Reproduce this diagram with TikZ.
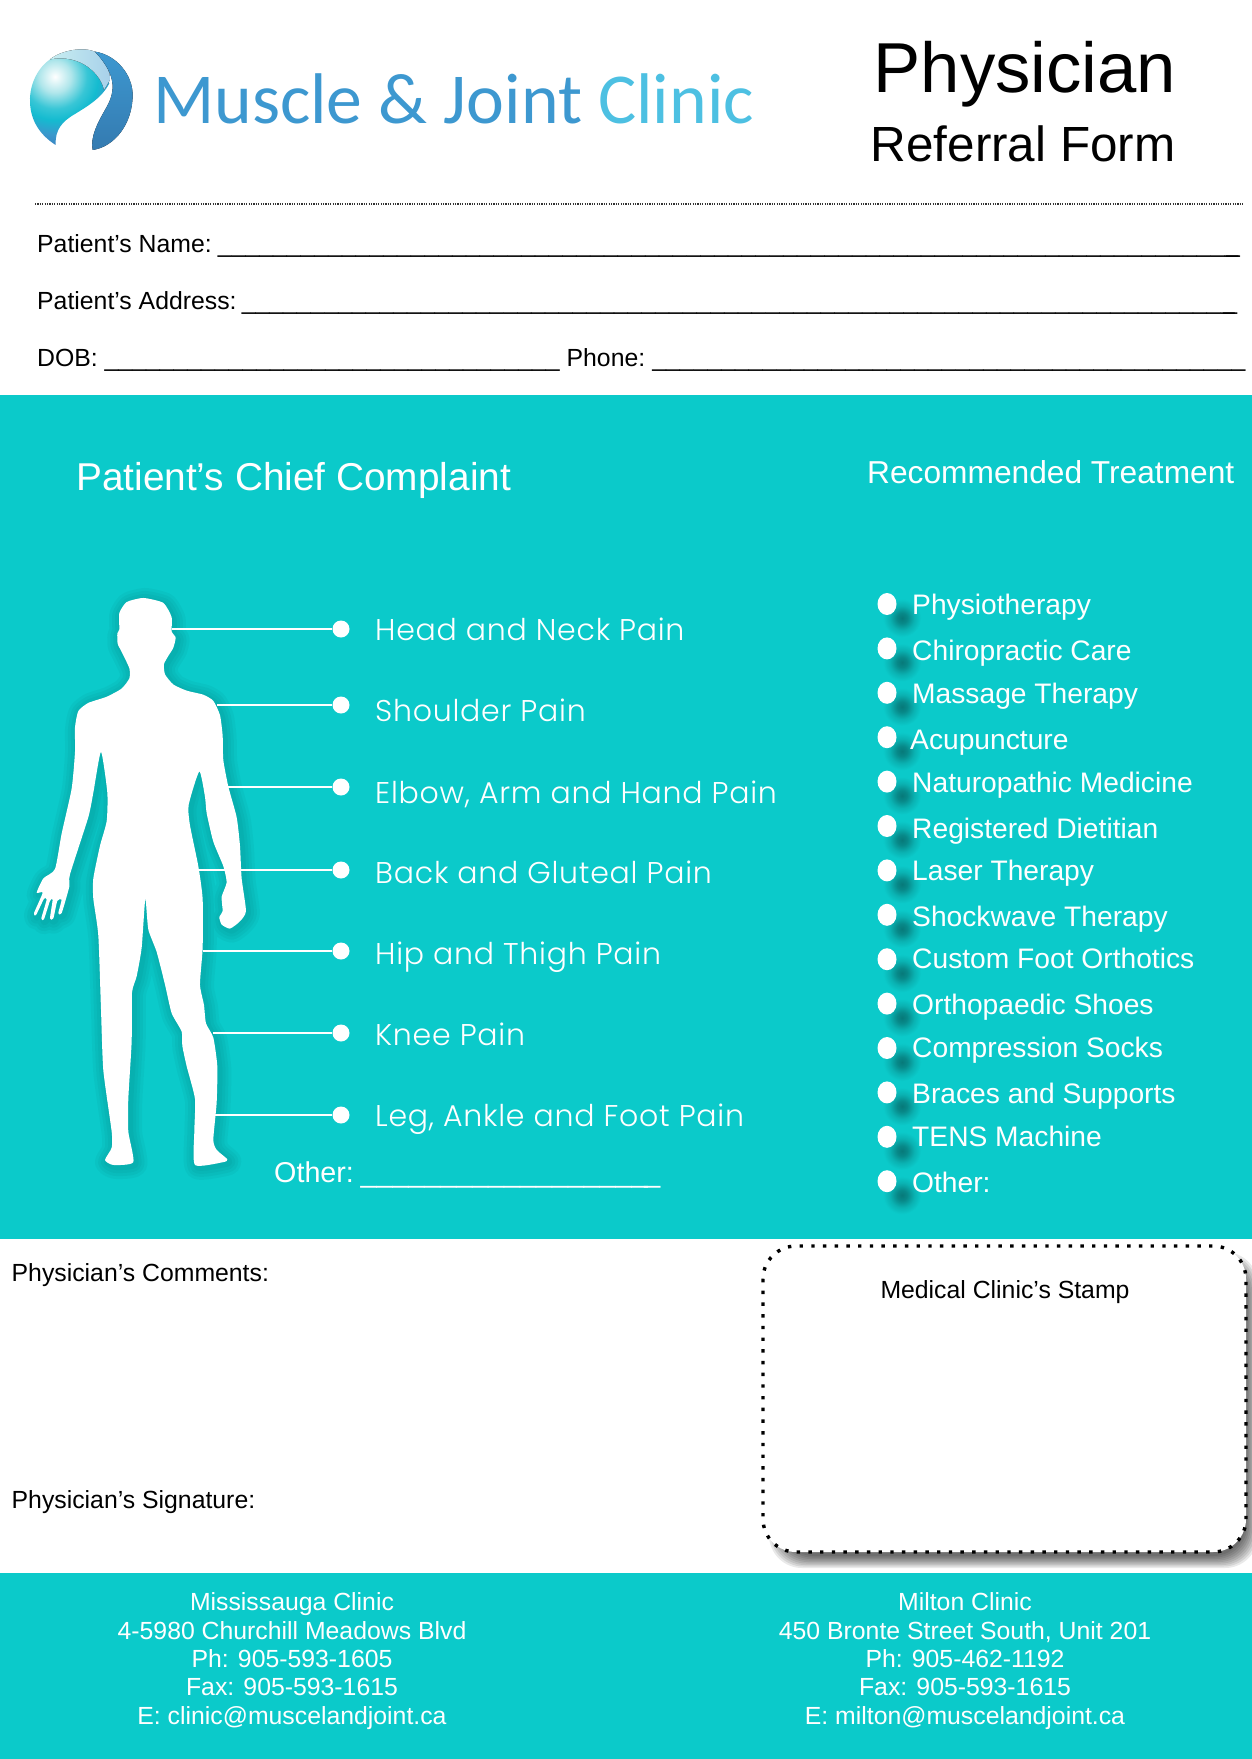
\documentclass[tikz,border=0pt]{standalone}
\usepackage{fontspec}
\setmainfont{Liberation Sans}
\newfontfamily\logofont{Carlito}
\newfontfamily\painfont[LetterSpace=2.5]{Poppins Light}
\usetikzlibrary{positioning,shapes.geometric}
\definecolor{panel}{HTML}{0BCACA}
\definecolor{logodark}{HTML}{3D98D0}
\definecolor{logolight}{HTML}{4DC0E2}
\definecolor{ballA}{HTML}{B0E6EB}
\definecolor{ballB}{HTML}{38C6D6}
\definecolor{ballC}{HTML}{14BBD0}
\definecolor{ballD}{HTML}{3A98CC}
\definecolor{ballE}{HTML}{3A88C4}
\pgfdeclareradialshading{logoball}{\pgfpointorigin}{color(0bp)=(white); color(5bp)=(ballA); color(10bp)=(ballB); color(13.5bp)=(ballC); color(18bp)=(ballD); color(21bp)=(ballE); color(50bp)=(ballE)}
\pgfdeclareradialshading{dotshadow}{\pgfpointorigin}{color(0bp)=(panel!60!black); color(7bp)=(panel!68!black); color(16bp)=(panel!88!black); color(25bp)=(panel); color(50bp)=(panel)}
\newcommand{\blanks}[1]{\count255=0 \loop\_\advance\count255 by 1 \ifnum\count255<#1\repeat}
\newcommand{\fsize}[1]{\fontsize{#1}{#1}\selectfont}
\tikzset{
  formtext/.style={anchor=base west,inner sep=0pt,font=\fsize{24.8}},
  whitetext/.style={anchor=base west,inner sep=0pt,text=white},
  paintext/.style={whitetext,font=\painfont\fsize{30}},
  paindot/.style={circle,fill=white,minimum size=17pt,inner sep=0pt},
  painline/.style={white,line width=2.4pt},
  bullet/.style={ellipse,fill=white,minimum width=19pt,minimum height=22pt,inner sep=0pt},
  treatment/.style={whitetext,font=\fsize{28.2}},
  clinic/.style={align=center,text=white,inner sep=0pt,font=\fontsize{24.8}{28.3}\selectfont},
}
\begin{document}
\begin{tikzpicture}[x=1pt,y=-1pt]
\useasboundingbox (0,0) rectangle (1252,1759);
\fill[white] (0,0) rectangle (1252,1759);
\fill[panel] (0,395) rectangle (1252,1239);
\fill[panel] (0,1573) rectangle (1252,1759);
% logo
\begin{scope}[shift={(20,40)},x=0.3333pt,y=-0.3333pt]
\begin{scope}
\clip (107,315) .. controls (60,285) and (28,240) .. (30,175) .. controls (32,110) and (75,55) .. (120,45) .. controls (180,40) and (250,80) .. (268,130) .. controls (245,175) and (200,200) .. (165,222) .. controls (125,245) and (105,270) .. (107,315) -- cycle;
\shade[shading=logoball] (105,110) circle (240);
\end{scope}
\fill[left color=ballA!70!white,right color=logodark!45!white] (90,58) .. controls (125,30) and (190,20) .. (225,35) .. controls (255,65) and (272,95) .. (270,120) -- (252,150) .. controls (245,110) and (190,40) .. (90,58) -- cycle;
\fill[top color=logodark,bottom color=ballE!90!black] (225,35) .. controls (290,45) and (338,105) .. (338,165) .. controls (338,250) and (285,320) .. (218,330) .. controls (210,290) and (235,245) .. (255,210) .. controls (285,160) and (295,110) .. (225,35) -- cycle;
\end{scope}
\node[anchor=base west,inner sep=0pt,font=\logofont\fsize{71.7}] (logotext) at (153,123) {\textcolor{logodark}{Muscle \& Joint} \textcolor{logolight}{Clinic}};
% title
\node[anchor=base,inner sep=0pt,font=\fsize{70.7}] (title) at (1025,92) {Physician};
\node[anchor=base,inner sep=0pt,font=\fsize{49.4}] (subtitle) at (1023,161) {Referral Form};
\coordinate (ruleL) at (35,204);
\coordinate (ruleR) at (1244,204);
\draw[line width=1.3pt,black!80,dash pattern=on 1.2pt off 1.2pt] (ruleL) -- (ruleR);
% form
\node[formtext] (name) at (37,252) {Patient’s Name: \kern-3pt\blanks{74}\kern-12.3pt\_};
\node[formtext] (address) at (37,309) {Patient’s Address: \kern-4pt\blanks{72}\kern-11.3pt\_};
\node[formtext] (dob) at (37,366) {DOB: \blanks{33} Phone: \kern-2pt\blanks{43}};
\node[whitetext,font=\fsize{38.8}] (complaint) at (76,490) {Patient’s Chief Complaint};
\node[whitetext,font=\fsize{31.7}] (recommended) at (867,483) {Recommended Treatment};
% body
\begin{scope}[shift={(0,560)},x=0.3333pt,y=-0.4082pt]
\def\bodypath{plot[smooth cycle,tension=0.35] coordinates {(430,93) (490,105) (515,140) (515,175) (527,190) (520,215) (505,235) (492,255) (495,280) (520,305) (560,320) (610,330) (640,345) (660,380) (668,430) (670,490) (685,555) (710,630) (720,700) (725,780) (738,860) (720,885) (690,903) (665,893) (658,875) (668,860) (665,825) (680,790) (670,750) (640,690) (620,620) (615,580) (598,518) (566,600) (570,650) (595,750) (608,830) (608,950) (600,1040) (612,1090) (618,1135) (640,1170) (652,1240) (650,1330) (640,1420) (650,1445) (682,1468) (670,1475) (585,1482) (583,1400) (585,1320) (560,1240) (547,1190) (545,1155) (515,1110) (495,1040) (470,960) (445,905) (436,830) (425,950) (410,1020) (396,1060) (395,1180) (385,1320) (385,1400) (400,1475) (340,1482) (315,1470) (335,1440) (335,1400) (310,1250) (303,1100) (295,920) (280,830) (280,780) (300,700) (320,640) (322,570) (303,470) (280,570) (265,630) (210,770) (208,800) (185,865) (175,865) (185,832) (172,835) (160,878) (150,878) (158,832) (150,835) (132,880) (124,878) (140,832) (132,830) (108,870) (102,865) (128,815) (110,815) (130,780) (165,757) (185,670) (215,560) (225,470) (225,410) (235,370) (265,350) (320,335) (365,315) (388,290) (388,265) (365,225) (353,205) (352,180) (358,170) (358,130) (380,103)}}
\foreach \w in {24,18,12,6}
  \draw[black,opacity=0.03,line width=\w pt,line join=round,xshift=2pt,yshift=-2pt] \bodypath;
\fill[white] \bodypath;
\end{scope}
% pain labels
\foreach \i/\xs/\ys/\yb/\txt in {1/172/629/640.4/Head and Neck Pain,2/217/705/721.2/Shoulder Pain,3/228/787/803.1/{Elbow, Arm and Hand Pain},4/199/870/883.9/Back and Gluteal Pain,5/203/951/964.7/Hip and Thigh Pain,6/213/1033/1045.5/Knee Pain,7/214/1115/1126.3/{Leg, Ankle and Foot Pain}}{
  \coordinate (p\i) at (\xs,\ys);
  \node[paindot] (dot\i) at (341,\ys) {};
  \draw[painline] (p\i) -- (dot\i);
  \node[paintext] (lab\i) at (375,\yb) {\txt};
}
\node[whitetext,font=\fsize{28.7}] (other) at (274,1182) {Other: \kern-4pt\blanks{18}\kern-3.4pt\_};
% treatments
\foreach \i/\xt/\yb/\txt in {0/912/614/Physiotherapy,1/912/660/Chiropractic Care,2/912/703/Massage Therapy,3/910/749/Acupuncture,4/912/792/Naturopathic Medicine,5/912/838/Registered Dietitian,6/912/880/Laser Therapy,7/912/926/Shockwave Therapy,8/912/968/Custom Foot Orthotics,9/912/1014/Orthopaedic Shoes,10/912/1057/Compression Socks,11/912/1103/Braces and Supports,12/912/1146/TENS Machine,13/912/1192/Other:}{
  \pgfmathsetmacro{\yc}{604+44.4*\i}
  \shade[shading=dotshadow] (902,\yc+14) circle (19);
  \node[bullet] (bul\i) at (887,\yc) {};
  \node[treatment] (treat\i) at (\xt,\yb) {\txt};
}
% comments and stamp
\node[formtext] (comments) at (11.5,1281) {Physician’s Comments:};
\node[formtext] (signature) at (11.5,1508) {Physician’s Signature:};
\foreach \d in {0,1.5,...,12}
  \fill[black,opacity=0.085,rounded corners=33pt] (763+6+\d,1246+6+\d) rectangle (1246+12-\d,1552+16-\d);
\draw[fill=white,line width=3.4pt,dash pattern=on 3.4pt off 8.3pt,rounded corners=33pt] (763,1246) rectangle (1246,1552);
\node[anchor=base,inner sep=0pt,font=\fsize{24.8}] (stamp) at (1005,1298) {Medical Clinic’s Stamp};
% clinics
\node[clinic] (mississauga) at (292,1661) {Mississauga Clinic\\4-5980 Churchill Meadows Blvd\\Ph: 905-593-1605\\Fax: 905-593-1615\\E: clinic@muscelandjoint.ca};
\node[clinic] (milton) at (965,1661) {Milton Clinic\\450 Bronte Street South, Unit 201\\Ph: 905-462-1192\\Fax: 905-593-1615\\E: milton@muscelandjoint.ca};
\end{tikzpicture}
\end{document}
